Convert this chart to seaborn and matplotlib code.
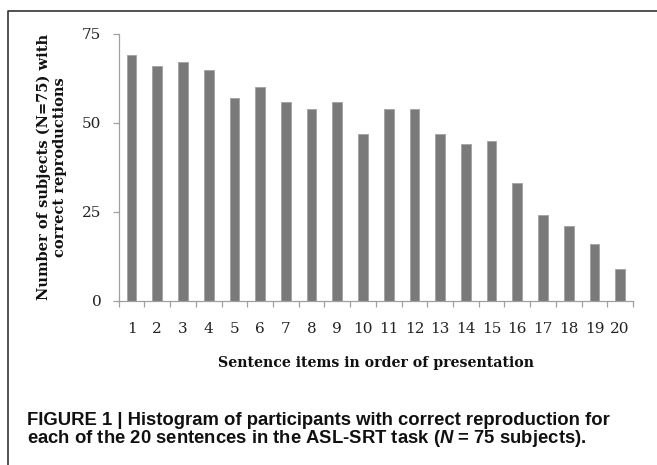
import pandas as pd
import numpy as np
import seaborn as sns
import matplotlib.pyplot as plt
from matplotlib.lines import Line2D
from matplotlib.ticker import FixedLocator

# sentence item number and number of subjects (of 75) reproducing it correctly
items = [str(i) for i in range(1, 21)]
correct = [69, 66, 67, 65, 57, 60, 56, 54, 56, 47,
           54, 54, 47, 44, 45, 33, 24, 21, 16, 9]
yticks = [0, 25, 50, 75]

df = pd.DataFrame({"Item": items, "Correct": correct})

sns.set_style("white")
plt.rcParams['font.family'] = ['DejaVu Serif']
plt.rcParams['mathtext.fontset'] = 'custom'
plt.rcParams['mathtext.it'] = 'Liberation Sans:italic:bold'
plt.rcParams['mathtext.rm'] = 'Liberation Sans:bold'

fig = plt.figure(figsize=(6.57, 4.65), dpi=100)
ax = fig.add_axes([0.1807, 0.3533, 0.9635 - 0.1807, 0.9269 - 0.3533])

sns.barplot(x="Item", y="Correct", data=df, ax=ax, color="#7a7a7a",
            width=0.38, saturation=1, edgecolor="#a6a6a6", linewidth=0.7)

ax.set_xlim(-0.5, len(items) - 0.5)
ax.set_ylim(0, 75)
ax.set_yticks(yticks)
ax.xaxis.set_minor_locator(FixedLocator(np.arange(-0.5, len(items), 1.0)))
ax.tick_params(axis='x', which='major', length=0, pad=15, labelsize=11,
               labelcolor="#222222")
ax.tick_params(axis='x', which='minor', length=4.5, width=0.9, color="#a0a0a0",
               direction='out', bottom=True)
ax.tick_params(axis='y', length=4.5, width=0.9, color="#a0a0a0", pad=8,
               labelsize=11, direction='out', left=True, labelcolor="#222222")

for side in ['top', 'right']:
    ax.spines[side].set_visible(False)
for side in ['left', 'bottom']:
    ax.spines[side].set_color("#a0a0a0")
    ax.spines[side].set_linewidth(0.9)

ax.set_xlabel("Sentence items in order of presentation", fontsize=10.2,
              fontweight='bold', labelpad=14.5, color="#111111")
ax.set_ylabel("Number of subjects (N=75) with\ncorrect reproductions",
              fontsize=10.5, fontweight='bold', labelpad=11, linespacing=1.12,
              color="#111111")

# figure frame (top and left edge)
fx = 8 / 657
fy = 1 - 11 / 465
fig.add_artist(Line2D([fx, fx, 1], [0, fy, fy], transform=fig.transFigure,
                      color="#333333", lw=1.2))

cap = dict(family=['Liberation Sans', 'DejaVu Sans'], fontweight='bold',
           fontsize=13.3, ha='left', va='baseline', color="#111111")
fig.text(27 / 657, 1 - 424.5 / 465,
         "FIGURE 1 | Histogram of participants with correct reproduction for", **cap)
fig.text(27 / 657, 1 - 442.5 / 465,
         "each of the 20 sentences in the ASL-SRT task ($N$ = 75 subjects).", **cap)

fig.savefig("out.png", dpi=100)
